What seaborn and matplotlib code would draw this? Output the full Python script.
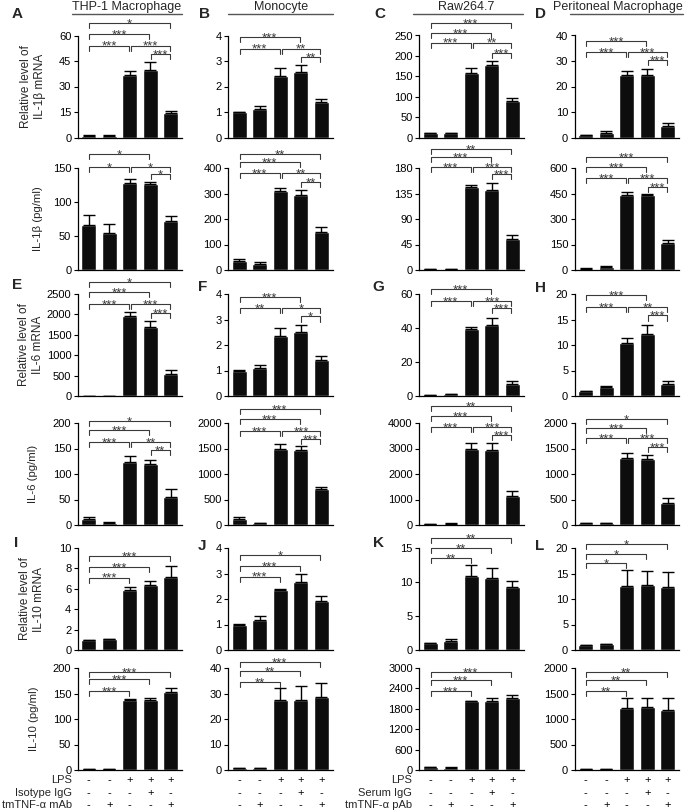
import matplotlib
matplotlib.use("Agg")
import matplotlib.pyplot as plt
import matplotlib.transforms as mtransforms
from matplotlib.lines import Line2D
import numpy as np
import pandas as pd
import seaborn as sns

sns.set_theme(style="ticks")
plt.rcParams['font.family'] = ['Liberation Sans', 'DejaVu Sans']

# ---- data ----
conditions = ["Ctrl", "Ab", "LPS", "LPS+IgG", "LPS+Ab"]
cell_types = ["THP-1 Macrophage", "Monocyte", "Raw264.7", "Peritoneal Macrophage"]
panel_letters = [["A", "B", "C", "D"], ["E", "F", "G", "H"], ["I", "J", "K", "L"]]
row_labels = ["Relative level of\nIL-1β mRNA", "IL-1β (pg/ml)",
              "Relative level of\nIL-6 mRNA", "IL-6 (pg/ml)",
              "Relative level of\nIL-10 mRNA", "IL-10 (pg/ml)"]

# mean values, one list per cell type (THP-1, monocyte, Raw264.7, peritoneal)
il1b_mrna = [[1.0, 1.0, 37, 40, 14.5], [1.0, 1.1, 2.43, 2.55, 1.38],
             [11, 10, 157, 177, 89], [0.8, 1.9, 24.5, 24.5, 4.4]]
il1b_mrna_sem = [[0.2, 0.2, 2, 4.5, 1.3], [0.01, 0.13, 0.3, 0.28, 0.13],
                 [1.2, 1.0, 14, 10, 8], [0.1, 0.5, 1.5, 2.3, 1.3]]
il1b_prot = [[66, 54, 128, 127, 72], [36, 25, 309, 293, 148],
             [1.5, 1.2, 146, 142, 55], [8, 20, 443, 443, 158]]
il1b_prot_sem = [[14.5, 13, 6.5, 3, 8], [9, 7, 12, 19, 19],
                 [0.4, 0.3, 4, 11, 7.5], [2, 5, 14, 7, 16]]
il6_mrna = [[3, 5, 1950, 1700, 540], [1.0, 1.1, 2.35, 2.5, 1.42],
            [0.7, 1.0, 39.5, 41.5, 7.0], [1.0, 1.7, 10.3, 12.1, 2.3]]
il6_mrna_sem = [[1, 1, 120, 150, 100], [0.01, 0.1, 0.33, 0.28, 0.15],
                [0.1, 0.1, 1.2, 4.2, 2.0], [0.05, 0.25, 1.0, 1.8, 0.6]]
il6_prot = [[11, 4.5, 123, 120, 55], [125, 40, 1500, 1470, 700],
            [40, 50, 2990, 2950, 1150], [32, 42, 1320, 1285, 425]]
il6_prot_sem = [[4, 1.2, 12, 8, 15], [25, 5, 95, 85, 40],
                [10, 10, 220, 260, 170], [4, 5, 95, 95, 100]]
il10_mrna = [[1.0, 1.07, 5.9, 6.33, 7.2], [1.0, 1.17, 2.37, 2.67, 1.92],
             [1.0, 1.3, 10.9, 10.55, 9.3], [1.0, 1.15, 12.5, 12.7, 12.3]]
il10_mrna_sem = [[0.02, 0.05, 0.25, 0.45, 1.0], [0.01, 0.18, 0.04, 0.3, 0.2],
                 [0.05, 0.25, 1.6, 1.45, 0.85], [0.05, 0.05, 3.1, 2.8, 2.9]]
il10_prot = [[2, 1.5, 137, 137, 153], [0.6, 0.6, 27.3, 27.5, 28.7],
             [75, 70, 2020, 2030, 2130], [15, 10, 1225, 1240, 1175]]
il10_prot_sem = [[0.3, 0.3, 1.5, 5, 8], [0.2, 0.2, 5.0, 5.5, 5.6],
                 [10, 10, 20, 85, 65], [3, 2, 195, 180, 235]]

# axis maxima and tick steps
y_max = [[60, 4, 250, 40], [150, 400, 180, 600], [2500, 4, 60, 20],
         [200, 2000, 4000, 2000], [10, 4, 15, 20], [200, 40, 3000, 2000]]
y_step = [[15, 1, 50, 10], [50, 100, 45, 150], [500, 1, 20, 5],
          [50, 500, 1000, 500], [2, 1, 5, 5], [50, 10, 600, 500]]

# significance comparisons (bar i, bar j, label)
full5 = lambda a, b, c, d, e: [(0, 4, a), (0, 3, b), (0, 2, c), (2, 4, d), (3, 4, e)]
four = lambda b, c, d, e: [(0, 3, b), (0, 2, c), (2, 4, d), (3, 4, e)]
three = lambda a, b, c: [(0, 4, a), (0, 3, b), (0, 2, c)]
sig = [
    [full5("*", "***", "***", "***", "***"), four("***", "***", "**", "**"),
     full5("***", "***", "***", "**", "***"), four("***", "***", "***", "***")],
    [four("*", "*", "*", "*"), full5("**", "***", "***", "**", "**"),
     full5("**", "***", "***", "***", "***"), full5("***", "***", "***", "***", "***")],
    [full5("*", "***", "***", "***", "***"), four("***", "**", "*", "*"),
     four("***", "***", "***", "***"), four("***", "***", "**", "***")],
    [full5("*", "***", "***", "**", "**"), full5("***", "***", "***", "***", "***"),
     full5("**", "***", "***", "***", "***"), full5("*", "***", "***", "***", "***")],
    [three("***", "***", "***"), three("*", "***", "***"),
     three("**", "**", "**"), three("*", "*", "*")],
    [three("***", "***", "***"), three("***", "**", "**"),
     three("***", "***", "***"), three("**", "**", "**")],
]

# treatment table under the bars
lps = ["-", "-", "+", "+", "+"]
igg = ["-", "-", "-", "+", "-"]
tm_ab = ["-", "+", "-", "-", "+"]
treat_names_mab = ["LPS", "Isotype IgG", "tmTNF-α mAb"]
treat_names_pab = ["LPS", "Serum IgG", "tmTNF-α pAb"]

# ---- layout (pixels) ----
W, H = 685, 811
col_left = [77.5, 228, 419, 574.5]
row_top = [35.5, 168, 294, 423, 548, 668]
ax_w, ax_h = 104.5, 102
bracket_y = [
    [[1.12, 1.015, 0.90, 0.90, 0.82], [0.985, 0.87, 0.87, 0.79],
     [1.12, 1.025, 0.93, 0.93, 0.83], [0.945, 0.84, 0.84, 0.76]],
    [[1.137, 1.01, 1.01, 0.94], [1.137, 1.06, 0.95, 0.95, 0.86],
     [1.186, 1.108, 1.01, 1.01, 0.94], [1.108, 1.01, 0.90, 0.90, 0.81]],
    [[1.118, 1.02, 0.90, 0.90, 0.81], [0.97, 0.86, 0.86, 0.78],
     [1.05, 0.93, 0.93, 0.86], [0.99, 0.87, 0.87, 0.79]],
    [[1.02, 0.93, 0.81, 0.81, 0.735], [1.137, 1.04, 0.92, 0.92, 0.84],
     [1.167, 1.07, 0.96, 0.96, 0.88], [1.04, 0.95, 0.85, 0.85, 0.765]],
    [[0.92, 0.81, 0.71], [0.93, 0.82, 0.72], [1.10, 1.0, 0.90], [1.04, 0.94, 0.85]],
    [[0.96, 0.89, 0.775], [1.06, 0.97, 0.86], [0.96, 0.88, 0.775], [0.96, 0.88, 0.775]],
]
label_x = [33, 38, 31, 33, 32, 34]
bcol = "#3a3a3a"

means = [il1b_mrna, il1b_prot, il6_mrna, il6_prot, il10_mrna, il10_prot]
sems = [il1b_mrna_sem, il1b_prot_sem, il6_mrna_sem, il6_prot_sem, il10_mrna_sem, il10_prot_sem]


def fx(px):
    return px / W


def fy(py):
    return 1 - py / H


def bracket(ax, i, j, level, label, leg=0.05):
    trans = ax.get_xaxis_transform()
    x0 = i + 0.02 if i != 2 else i + 0.08
    x1 = j - 0.06 if j != 2 else j - 0.02
    ax.plot([x0, x0, x1, x1], [level - leg, level, level, level - leg],
            color=bcol, lw=0.8, transform=trans, clip_on=False)
    ax.annotate(label, xy=((x0 + x1) / 2, level), xycoords=trans,
                xytext=(0, -3.0), textcoords="offset points",
                ha="center", va="baseline", fontsize=9.5, color=bcol)


fig = plt.figure(figsize=(W / 100, H / 100), dpi=100)

for r in range(6):
    for c in range(4):
        ax = fig.add_axes([fx(col_left[c]), fy(row_top[r] + ax_h), ax_w / W, ax_h / H])
        df = pd.DataFrame({"cond": conditions, "value": means[r][c]})
        sns.barplot(data=df, x="cond", y="value", color="#0d0d0d", saturation=1,
                    width=0.72, errorbar=None, ax=ax, zorder=2)
        ax.errorbar(range(5), means[r][c], yerr=[[0] * 5, sems[r][c]], fmt="none",
                    ecolor="black", elinewidth=1.0, capsize=4, capthick=1.0, zorder=3)
        ax.set_xlim(-0.55, 4.55)
        ax.set_ylim(0, y_max[r][c])
        ticks = np.arange(0, y_max[r][c] + y_step[r][c] / 2, y_step[r][c])
        ax.set_yticks(ticks)
        ax.set_yticklabels([f"{t:g}" for t in ticks])
        ax.set_xticks([])
        ax.set_xlabel("")
        ax.set_ylabel("")
        sns.despine(ax=ax)
        for s in ["left", "bottom"]:
            ax.spines[s].set_linewidth(0.9)
            ax.spines[s].set_color("black")
        ax.tick_params(axis="y", length=3, width=0.8, labelsize=8, pad=1.5, colors="black")
        for (i, j, lab), lev in zip(sig[r][c], bracket_y[r][c]):
            bracket(ax, i, j, lev, lab)

        if r == 5:
            tr = mtransforms.blended_transform_factory(ax.transData, fig.transFigure)
            for row_vals, ypx in zip([lps, igg, tm_ab], [780, 793, 805]):
                for k, v in enumerate(row_vals):
                    ax.text(k, fy(ypx), v, transform=tr, ha="center", va="center",
                            fontsize=8, color="black")

# row labels
for r in range(6):
    fig.text(fx(label_x[r]), fy(row_top[r] + ax_h / 2), row_labels[r], rotation=90,
             ha="center", va="center", multialignment="center",
             fontsize=8.5 if "\n" in row_labels[r] else 8.2, linespacing=1.15)

# column headers
header_cx = [127, 281, 466, 618]
header_line = [(72, 182), (228, 333), (413, 523), (570, 683)]
for name, cx, (x0, x1) in zip(cell_types, header_cx, header_line):
    fig.text(fx(cx), fy(7), name, ha="center", va="center", fontsize=9)
    fig.add_artist(Line2D([fx(x0), fx(x1)], [fy(13.5), fy(13.5)],
                          transform=fig.transFigure, color="#555555", lw=1.0))

# panel letters
letter_pos = [[(17, 14.5), (204, 14), (380, 14), (540, 14)],
              [(17, 285), (203, 287), (378, 287), (540, 288)],
              [(16, 543), (202, 546), (379, 543), (540, 546)]]
for rr in range(3):
    for c in range(4):
        x, y = letter_pos[rr][c]
        fig.text(fx(x), fy(y), panel_letters[rr][c], ha="center", va="center",
                 fontsize=11, fontweight="bold")

# treatment names
for names, xr in [(treat_names_mab, 72), (treat_names_pab, 412)]:
    for nm, ypx in zip(names, [780, 793, 805]):
        fig.text(fx(xr), fy(ypx), nm, ha="right", va="center", fontsize=8)

fig.savefig("out.png", dpi=100)
